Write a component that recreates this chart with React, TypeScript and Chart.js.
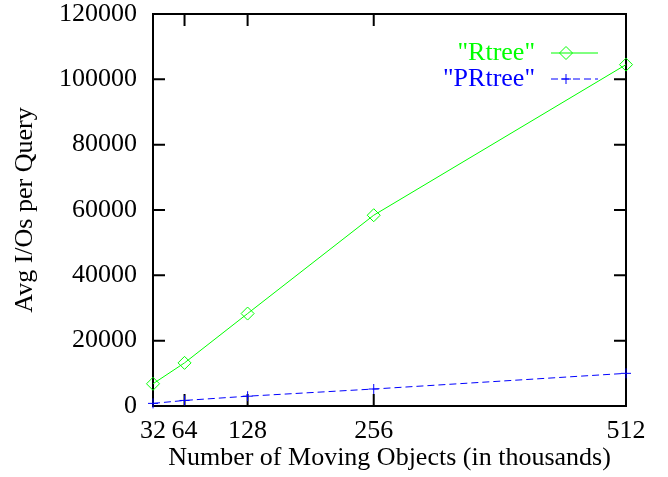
import React, { useEffect, useRef } from "react";
import { Chart, registerables } from "chart.js";

Chart.register(...registerables);

const objectCounts = [32, 64, 128, 256, 512];
const rtreeIOs = [6800, 13200, 28300, 58400, 104500];
const prtreeIOs = [800, 1700, 3000, 5200, 10000];
const yTickValues = [0, 20000, 40000, 60000, 80000, 100000, 120000];
const seriesLabels = ['"Rtree"', '"PRtree"'];
const seriesColors = ["#00ff00", "#0000ff"];
const xTitle = "Number of Moving Objects (in thousands)";
const yTitle = "Avg I/Os per Query";

const FONT = "'Liberation Serif', 'Times New Roman', serif";
const FONT_SIZE = 26;

function drawMarker(ctx: CanvasRenderingContext2D, style: string, x: number, y: number, r: number) {
  ctx.beginPath();
  if (style === "rectRot") {
    ctx.moveTo(x - r, y);
    ctx.lineTo(x, y - r);
    ctx.lineTo(x + r, y);
    ctx.lineTo(x, y + r);
    ctx.closePath();
  } else {
    ctx.moveTo(x - r, y);
    ctx.lineTo(x + r, y);
    ctx.moveTo(x, y - r);
    ctx.lineTo(x, y + r);
  }
  ctx.stroke();
}

const framePlugin = {
  id: "gnuFrame",
  beforeDatasetsDraw(chart: any) {
    const { ctx, chartArea, scales } = chart;
    const { left, right, top, bottom } = chartArea;
    const tl = 12;
    ctx.save();
    ctx.strokeStyle = "#000";
    ctx.lineWidth = 2;
    ctx.beginPath();
    for (const v of objectCounts) {
      const px = scales.x.getPixelForValue(v);
      ctx.moveTo(px, bottom);
      ctx.lineTo(px, bottom - tl);
      ctx.moveTo(px, top);
      ctx.lineTo(px, top + tl);
    }
    for (const v of yTickValues) {
      const py = scales.y.getPixelForValue(v);
      ctx.moveTo(left, py);
      ctx.lineTo(left + tl, py);
      ctx.moveTo(right, py);
      ctx.lineTo(right - tl, py);
    }
    ctx.stroke();
    ctx.strokeRect(left, top, right - left, bottom - top);
    ctx.restore();
  },
};

const legendPlugin = {
  id: "gnuLegend",
  afterDatasetsDraw(chart: any) {
    const { ctx, chartArea } = chart;
    const { right, top } = chartArea;
    ctx.save();
    chart.data.datasets.forEach((ds: any, i: number) => {
      const y = top + 39 + i * 26;
      ctx.font = `${FONT_SIZE}px ${FONT}`;
      ctx.fillStyle = ds.borderColor;
      ctx.textAlign = "right";
      ctx.textBaseline = "middle";
      ctx.fillText(ds.label, right - 91, y);
      ctx.strokeStyle = ds.borderColor;
      ctx.lineWidth = 1;
      ctx.setLineDash(ds.borderDash || []);
      ctx.beginPath();
      ctx.moveTo(right - 75, y);
      ctx.lineTo(right - 28, y);
      ctx.stroke();
      ctx.setLineDash([]);
      drawMarker(ctx, ds.pointStyle, right - 60, y, ds.pointRadius);
    });
    ctx.restore();
  },
};

export default function App() {
  const canvasRef = useRef<HTMLCanvasElement | null>(null);

  useEffect(() => {
    if (!canvasRef.current) return;
    const tickFont = { family: FONT, size: FONT_SIZE };
    const chart = new Chart(canvasRef.current, {
      type: "line",
      data: {
        datasets: [
          {
            label: seriesLabels[0],
            data: objectCounts.map((x, i) => ({ x, y: rtreeIOs[i] })),
            borderColor: seriesColors[0],
            backgroundColor: "transparent",
            borderWidth: 1,
            pointStyle: "rectRot",
            pointRadius: 6.5,
            pointBorderWidth: 1,
            pointBorderColor: seriesColors[0],
            pointBackgroundColor: "transparent",
            fill: false,
            tension: 0,
            clip: false as any,
          },
          {
            label: seriesLabels[1],
            data: objectCounts.map((x, i) => ({ x, y: prtreeIOs[i] })),
            borderColor: seriesColors[1],
            backgroundColor: "transparent",
            borderWidth: 1,
            borderDash: [7, 4],
            pointStyle: "cross",
            pointRadius: 5,
            pointBorderWidth: 1,
            pointBorderColor: seriesColors[1],
            fill: false,
            tension: 0,
            clip: false as any,
          },
        ],
      },
      options: {
        responsive: false,
        animation: false,
        layout: { padding: { left: 0, right: 42, top: 14, bottom: 0 } },
        plugins: {
          legend: { display: false },
          tooltip: { enabled: false },
        },
        scales: {
          x: {
            type: "linear",
            min: 32,
            max: 512,
            afterBuildTicks: (s: any) => {
              s.ticks = objectCounts.map((v) => ({ value: v }));
            },
            afterFit: (s: any) => {
              s.height = 71;
              s.paddingLeft = 0;
              s.paddingRight = 0;
            },
            grid: { display: false, drawTicks: false },
            border: { display: false },
            ticks: {
              autoSkip: false,
              maxRotation: 0,
              padding: 10,
              color: "#000",
              font: tickFont,
              callback: (v: any) => String(v),
            },
            title: {
              display: true,
              text: xTitle,
              color: "#000",
              font: tickFont,
              padding: { top: 0, bottom: 3 },
            },
          },
          y: {
            type: "linear",
            min: 0,
            max: 120000,
            afterBuildTicks: (s: any) => {
              s.ticks = yTickValues.map((v) => ({ value: v }));
            },
            afterFit: (s: any) => {
              s.width = 153;
              s.paddingTop = 0;
              s.paddingBottom = 0;
            },
            grid: { display: false, drawTicks: false },
            border: { display: false },
            ticks: {
              padding: 16,
              color: "#000",
              font: tickFont,
              callback: (v: any) => String(v),
            },
            title: {
              display: true,
              text: yTitle,
              color: "#000",
              font: tickFont,
              padding: { top: 10, bottom: 0 },
            },
          },
        },
      },
      plugins: [framePlugin, legendPlugin],
    });
    return () => chart.destroy();
  }, []);

  return (
    <div style={{ position: "absolute", left: 0, top: 0, width: 668, height: 477 }}>
      <canvas ref={canvasRef} width={668} height={477} style={{ width: 668, height: 477 }} />
    </div>
  );
}
